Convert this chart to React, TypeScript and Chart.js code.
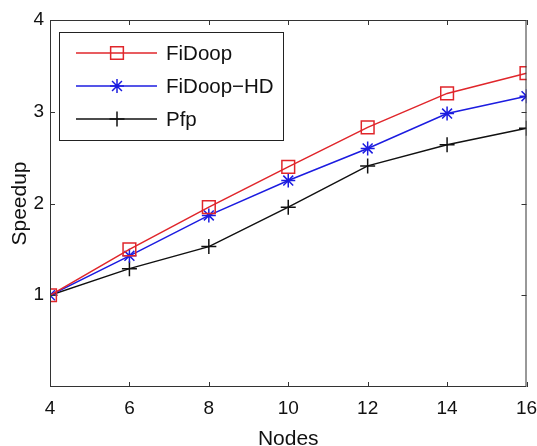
import React, { useEffect, useRef } from "react";
import { Chart, registerables } from "chart.js";

Chart.register(...registerables);

const nodes = [4, 6, 8, 10, 12, 14, 16];
const fidoop = [1.0, 1.5, 1.96, 2.4, 2.83, 3.2, 3.42];
const fidoopHD = [1.0, 1.43, 1.87, 2.25, 2.6, 2.98, 3.17];
const pfp = [1.0, 1.29, 1.53, 1.96, 2.41, 2.64, 2.82];
const xTicks = [4, 6, 8, 10, 12, 14, 16];
const yTicks = [1, 2, 3, 4];

const FONT = "'Liberation Sans', Arial, sans-serif";

const framePlugin = {
  id: "frame",
  afterDraw(chart: any) {
    const { ctx, chartArea: a, scales } = chart;
    ctx.save();
    ctx.strokeStyle = "#333";
    ctx.lineWidth = 1;
    ctx.strokeRect(a.left + 0.5, a.top + 0.5, a.right - a.left - 1, a.bottom - a.top - 1);
    const tl = 5;
    ctx.beginPath();
    for (const v of xTicks) {
      const x = Math.round(scales.x.getPixelForValue(v)) + 0.5;
      ctx.moveTo(x, a.bottom);
      ctx.lineTo(x, a.bottom - tl);
      ctx.moveTo(x, a.top);
      ctx.lineTo(x, a.top + tl);
    }
    for (const v of yTicks) {
      const y = Math.round(scales.y.getPixelForValue(v)) + 0.5;
      ctx.moveTo(a.left, y);
      ctx.lineTo(a.left + tl, y);
      ctx.moveTo(a.right, y);
      ctx.lineTo(a.right - tl, y);
    }
    ctx.stroke();

    // legend box
    const bx = 59, by = 32, bw = 224, bh = 108;
    ctx.fillStyle = "#fff";
    ctx.fillRect(bx, by, bw, bh);
    ctx.strokeStyle = "#222";
    ctx.strokeRect(bx + 0.5, by + 0.5, bw, bh);
    const rows = [53, 86, 119];
    chart.data.datasets.forEach((ds: any, i: number) => {
      const y = rows[i];
      ctx.strokeStyle = ds.borderColor;
      ctx.lineWidth = 1.5;
      ctx.beginPath();
      ctx.moveTo(76, y);
      ctx.lineTo(157, y);
      ctx.stroke();
      const r = ds.pointRadius;
      ctx.beginPath();
      if (ds.pointStyle === "rect") {
        const s = Math.SQRT1_2 * r;
        ctx.rect(117 - s, y - s, 2 * s, 2 * s);
      } else if (ds.pointStyle === "star") {
        ctx.moveTo(117 - r, y); ctx.lineTo(117 + r, y);
        ctx.moveTo(117, y - r); ctx.lineTo(117, y + r);
        const d = r * Math.SQRT1_2;
        ctx.moveTo(117 - d, y - d); ctx.lineTo(117 + d, y + d);
        ctx.moveTo(117 - d, y + d); ctx.lineTo(117 + d, y - d);
      } else {
        ctx.moveTo(117 - r, y); ctx.lineTo(117 + r, y);
        ctx.moveTo(117, y - r); ctx.lineTo(117, y + r);
      }
      ctx.stroke();
      ctx.fillStyle = "#111";
      ctx.font = `20.5px ${FONT}`;
      ctx.textBaseline = "middle";
      ctx.textAlign = "left";
      ctx.fillText(ds.label, 166, y + 1);
    });
    ctx.restore();
  },
};

export default function App() {
  const ref = useRef<HTMLCanvasElement>(null);
  useEffect(() => {
    const mk = (label: string, data: number[], color: string, style: string, r: number) => ({
      label,
      data: data.map((v, i) => ({ x: nodes[i], y: v })),
      borderColor: color,
      backgroundColor: "transparent",
      pointBorderColor: color,
      pointBackgroundColor: "transparent",
      pointStyle: style,
      pointRadius: r,
      pointBorderWidth: 1.5,
      borderWidth: 1.5,
      tension: 0,
    });
    const chart = new Chart(ref.current!, {
      type: "line",
      data: {
        datasets: [
          mk("FiDoop", fidoop, "#e0262b", "rect", 9),
          mk("FiDoop\u2212HD", fidoopHD, "#1c1ce0", "star", 7),
          mk("Pfp", pfp, "#111111", "cross", 7.5),
        ],
      },
      options: {
        animation: false,
        responsive: false,
        events: [],
        layout: { padding: { top: 20, right: 8, left: 0, bottom: 0 } },
        plugins: { legend: { display: false }, tooltip: { enabled: false } },
        scales: {
          x: {
            type: "linear",
            min: 4,
            max: 16,
            afterBuildTicks: (s: any) => { s.ticks = xTicks.map((v) => ({ value: v })); },
            afterFit: (s: any) => { s.height = 59; s.paddingLeft = 0; s.paddingRight = 0; },
            grid: { display: false, drawTicks: false },
            border: { display: false },
            ticks: { color: "#111", font: { family: FONT, size: 19 }, padding: 10, maxRotation: 0 },
            title: { display: true, text: "Nodes", color: "#111", font: { family: FONT, size: 21 }, padding: -6 },
          },
          y: {
            min: 0,
            max: 4,
            afterBuildTicks: (s: any) => { s.ticks = yTicks.map((v) => ({ value: v })); },
            afterFit: (s: any) => { s.width = 50; s.paddingTop = 0; s.paddingBottom = 0; },
            grid: { display: false, drawTicks: false },
            border: { display: false },
            ticks: { color: "#111", font: { family: FONT, size: 19 }, padding: 6 },
            title: { display: true, text: "Speedup", color: "#111", font: { family: FONT, size: 21 }, padding: 8 },
          },
        },
      },
      plugins: [framePlugin],
    });
    return () => chart.destroy();
  }, []);
  return (
    <div style={{ position: "fixed", left: 0, top: 0, width: 537, height: 446, background: "#fff" }}>
      <canvas ref={ref} width={537} height={446} style={{ width: 537, height: 446 }} />
    </div>
  );
}
